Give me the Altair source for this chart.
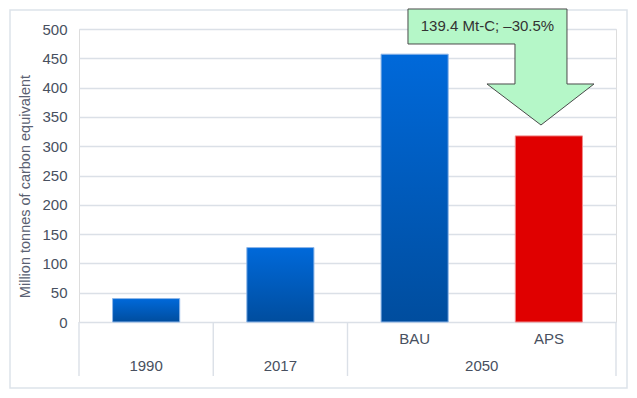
import altair as alt
import pandas as pd

# ---- data ----
categories = ["1990", "2017", "BAU", "APS"]
groups = ["1990", "2017", "2050", "2050"]
values = [40, 127, 457, 317.6]
y_ticks = [0, 50, 100, 150, 200, 250, 300, 350, 400, 450, 500]

bau = values[2]
aps = values[3]
callout = f"{bau - aps:.1f} Mt-C; \u2013{(bau - aps) / bau * 100:.1f}%"

W, H = 537, 293
STEP = W / 4
FONT = "Liberation Sans"
TXT = "#485060"
GRID = "#dbe0e7"

df = pd.DataFrame({"cat": categories, "group": groups, "value": values})

xscale = alt.Scale(domain=categories, paddingInner=0.5, paddingOuter=0.25)
X = alt.X("cat:N", scale=xscale, axis=None)
Y = alt.Y(
    "value:Q",
    scale=alt.Scale(domain=[0, 500], nice=False),
    axis=alt.Axis(
        values=y_ticks,
        tickCount=len(y_ticks) + 2,
        labelOverlap=False,
        title="Million tonnes of carbon equivalent",
        grid=True,
        gridColor=GRID,
        gridWidth=1.4,
        ticks=False,
        domain=False,
        labelPadding=12,
        labelFontSize=15,
        labelColor=TXT,
        labelFont=FONT,
        titleFont=FONT,
        titleFontSize=14.5,
        titleFontWeight="normal",
        titleColor="#5a6172",
        titlePadding=9,
        titleY=157,
    ),
)

base = alt.Chart(df)

blue = alt.LinearGradient(
    gradient="linear",
    stops=[
        alt.GradientStop(color="#0069da", offset=0),
        alt.GradientStop(color="#004d9e", offset=1),
    ],
    x1=0, x2=0, y1=0, y2=1,
)

bars_blue = base.transform_filter("datum.cat != 'APS'").mark_bar(
    fill=blue, stroke="#8db6e8", strokeWidth=1
).encode(x=X, y=Y)

bars_red = base.transform_filter("datum.cat == 'APS'").mark_bar(
    fill="#e00000", stroke="#f08a8a", strokeWidth=1
).encode(x=X, y=Y)

# category separators under the axis
sep_left = base.transform_filter("datum.cat != 'APS'").mark_rule(
    color=GRID, strokeWidth=1.4, xOffset=-STEP / 2
).encode(x=X, y=alt.value(H), y2=alt.value(H + 54))
sep_right = base.transform_filter("datum.cat == 'APS'").mark_rule(
    color=GRID, strokeWidth=1.4, xOffset=STEP / 2
).encode(x=X, y=alt.value(H), y2=alt.value(H + 54))

# sub-category labels (BAU / APS)
sub_labels = base.transform_filter("datum.group == '2050'").mark_text(
    fontSize=15, font=FONT, color=TXT, baseline="middle"
).encode(x=X, y=alt.value(H + 17), text="cat:N")

# group labels
year_labels = base.transform_filter("datum.group != '2050'").mark_text(
    fontSize=15, font=FONT, color=TXT, baseline="middle"
).encode(x=X, y=alt.value(H + 44), text="group:N")
group_2050 = base.transform_filter("datum.cat == 'BAU'").mark_text(
    fontSize=15, font=FONT, color=TXT, baseline="middle", dx=STEP / 2
).encode(x=X, y=alt.value(H + 44), text="group:N")

# callout arrow anchored on the APS bar
arrow_path = (
    "M-1.409,-1.269L0.181,-1.269L0.181,-0.519L0.451,-0.519L-0.079,-0.109"
    "L-0.619,-0.519L-0.339,-0.519L-0.339,-0.919L-1.409,-0.919Z"
)
arrow = base.transform_filter("datum.cat == 'APS'").mark_point(
    shape=arrow_path, size=40000, filled=True, fill="#b5f7c8",
    stroke="#4a4a4a", strokeWidth=1, opacity=1
).encode(x=X, y=Y)

arrow_text = base.transform_filter("datum.cat == 'APS'").transform_calculate(
    label=f"'{callout}'"
).mark_text(
    fontSize=15, font=FONT, color="#333333", baseline="middle",
    align="center", dx=-61.4, dy=-109.4
).encode(x=X, y=Y, text="label:N")

frame_df = pd.DataFrame({"k": [0]})
frame = alt.Chart(frame_df).mark_rect(
    fill=None, stroke="#dde3ea", strokeWidth=1.5
).encode(
    x=alt.value(-69), x2=alt.value(W + 11),
    y=alt.value(-19), y2=alt.value(H + 66),
)

chart = alt.layer(
    bars_blue, frame, sep_left, sep_right, bars_red, sub_labels,
    year_labels, group_2050, arrow, arrow_text,
).properties(
    width=W, height=H,
    autosize=alt.AutoSizeParams(type="none"),
    padding={"left": 71, "top": 21, "right": 13, "bottom": 68},
).configure_view(stroke=None).configure(background="white")

chart.save("out.html", embed_options={"renderer": "svg", "actions": False})
